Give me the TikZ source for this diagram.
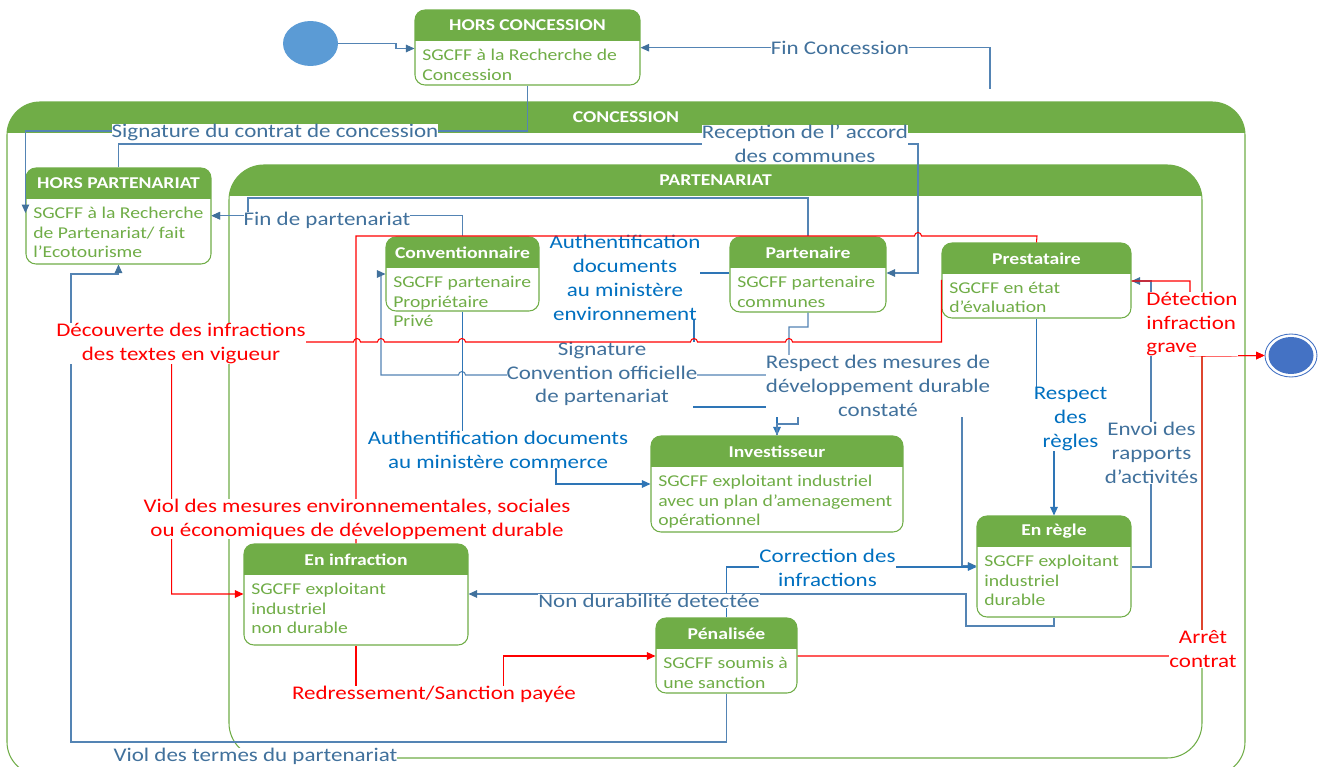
\documentclass[tikz,border=0pt]{standalone}
\usepackage{fontspec}
\setmainfont{Carlito}[FakeStretch=1.19]
\usetikzlibrary{arrows.meta,positioning,fit,shapes.geometric}

\definecolor{stgreen}{RGB}{112,173,71}
\definecolor{lnsteel}{RGB}{84,132,180}
\definecolor{tipsteel}{RGB}{65,113,156}
\definecolor{txsteel}{RGB}{65,113,156}
\definecolor{txblue}{RGB}{0,112,192}
\definecolor{lnblue}{RGB}{46,117,182}
\definecolor{initblue}{RGB}{91,155,213}
\definecolor{finblue}{RGB}{68,114,196}

% petit saut de ligne (droite vers gauche)
\newcommand{\hopl}[2]{-- ({#1+3.5},#2) arc[start angle=0,end angle=180,radius=0.07cm]}
\newcommand{\lblfont}{\fontsize{11}{13.6}\selectfont}
\newcommand{\bodyfont}{\fontsize{9.4}{11.3}\selectfont}
\newcommand{\ttlfont}{\fontsize{9.4}{11}\selectfont\bfseries}

\begin{document}
\begin{tikzpicture}[x=0.02cm,y=-0.02cm,label distance=0pt]
\tikzset{
  state/.style={draw=stgreen,line width=0.6pt,fill=white,rounded corners=0.2cm,inner sep=0pt,
    path picture={\fill[stgreen,sharp corners] (path picture bounding box.north west) rectangle
      ([yshift=-0.62cm]path picture bounding box.north east);}},
  bigstate/.style={state,rounded corners=0.66cm},
  ttl/.style={anchor=north,minimum height=0.62cm,inner sep=0pt,text=white,font=\ttlfont},
  body/.style={inner sep=0pt,align=left,text=stgreen,font=\bodyfont},
  initst/.style={ellipse,fill=initblue,minimum width=1.1cm,minimum height=0.9cm,inner sep=0pt},
  finst/.style={ellipse,draw=finblue,line width=0.5pt,fill=white,minimum width=1.04cm,minimum height=0.86cm,inner sep=0pt,
    path picture={\fill[finblue] (path picture bounding box.center) ellipse [x radius=0.45cm,y radius=0.37cm];}},
  flow/.style={draw=lnsteel,line width=0.6pt,-{Triangle[length=1.7mm,width=1.5mm,color=tipsteel]}},
  flowb/.style={draw=lnblue,line width=0.6pt,-{Triangle[length=1.7mm,width=1.5mm,color=lnblue]}},
  flowr/.style={draw=red,line width=0.6pt,-{Triangle[length=1.7mm,width=1.5mm]}},
  lbl/.style={fill=white,inner sep=0pt,align=center,font=\lblfont,text=txsteel},
  lblb/.style={lbl,text=txblue},
  lblr/.style={lbl,text=red}
}
\useasboundingbox (0,0) rectangle (1320,767);

% etats composites
\node[bigstate,fit={(7,102) (1245,775)},label={[ttl]north:CONCESSION}] (conc) {};
\node[bigstate,rounded corners=0.7cm,fit={(229,165) (1202,758)},label={[ttl]north:PARTENARIAT}] (part) {};

% etats
\node[initst] (init) at (310.5,43.5) {};
\node[finst] (final) at (1291,355.5) {};

\node[state,fit={(415,10) (640,85)},label={[ttl]north:HORS CONCESSION}] (hconc) {};
\node[body,below right=0.78cm and 0.15cm of hconc.north west] (hconc-t) {SGCFF à la Recherche de\\Concession};

\node[state,fit={(26,168) (211,264)},label={[ttl]north:HORS PARTENARIAT}] (hpart) {};
\node[body,below right=0.78cm and 0.15cm of hpart.north west] (hpart-t) {SGCFF à la Recherche\\de Partenariat/ fait\\l'Ecotourisme};

\node[state,fit={(386,237) (539,311)},label={[ttl]north:Conventionnaire}] (conv) {};
\node[body,below right=0.78cm and 0.15cm of conv.north west] (conv-t) {SGCFF partenaire\\Propriétaire\\Privé};

\node[state,fit={(730,237) (886,312)},label={[ttl]north:Partenaire}] (parten) {};
\node[body,below right=0.78cm and 0.15cm of parten.north west] (parten-t) {SGCFF partenaire\\communes};

\node[state,fit={(942,243) (1131,318)},label={[ttl]north:Prestataire}] (prest) {};
\node[body,below right=0.78cm and 0.15cm of prest.north west] (prest-t) {SGCFF en état\\d'évaluation};

\node[state,fit={(651,436) (903,532)},label={[ttl]north:Investisseur}] (invest) {};
\node[body,below right=0.78cm and 0.15cm of invest.north west] (invest-t) {SGCFF exploitant industriel\\avec un plan d'amenagement\\opérationnel};

\node[state,fit={(977,516) (1131,617)},label={[ttl]north:En règle}] (enregle) {};
\node[body,below right=0.78cm and 0.15cm of enregle.north west] (enregle-t) {SGCFF exploitant\\industriel\\durable};

\node[state,fit={(244,544) (468,645)},label={[ttl]north:En infraction}] (eninf) {};
\node[body,below right=0.78cm and 0.15cm of eninf.north west] (eninf-t) {SGCFF exploitant\\industriel\\non durable};

\node[state,fit={(656,618) (797,693)},label={[ttl]north:Pénalisée}] (penal) {};
\node[body,below right=0.78cm and 0.15cm of penal.north west] (penal-t) {SGCFF soumis à\\une sanction};

% transitions
\coordinate (fcstart) at (990,89);
\draw[flow] (init.east) -- (396,43.5) -- (396,48.5) -- (hconc.west |- 0,48.5);
\draw[flow] (fcstart) |- (hconc.east |- 0,47.7);
\draw[flow] (hconc.south) |- (hpart.west |- 0,131) -- (hpart.west |- 0,213);
\draw[flow] (hpart.north) |- (918,144) |- (parten.east |- 0,273);
\draw[flow] (conv.north) |- (hpart.east |- 0,215.7);
\draw[flow] (parten.north) |- (248,198) |- (hpart.east |- 0,215.7);
\draw[flow] (penal.south) |- (71,742) |- (hpart.south |- 0,274) -- (hpart.south);
\draw[flow] (parten.south) -- (808,327) -- (789,327) -- (789,375) \hopl{462}{375} -- (381,375) -- (381,274) -- (conv.west |- 0,274);
\draw[flowb] (parten.west |- 0,273) -- (694,273) -- (694,407) -| (invest.north);
\draw[flowb] (conv.south) -- (462.5,461) -| (556,484) -- (invest.west |- 0,484);
\draw[flow] (invest.north) -- (777,424) -- (798,424) -- (798,400) -| (962,566) -- (enregle.west |- 0,566);
\draw[flowb] (prest.south) |- (enregle.north |- 0,419) -- (enregle.north);
\draw[flow] (enregle.east |- 0,567) -| (1151,281) -- (prest.east |- 0,281);
\draw[flowr] (prest.east |- 0,281) -| (1190,356) -- (final.west);
\draw[flowr] (penal.east |- 0,656) -| (1202,356) -- (final.west);
\draw[flowb] (penal.north) |- (enregle.west |- 0,567);
\draw[flow] (enregle.south) |- (966,626) |- (eninf.east |- 0,594);
\draw[flowr] (eninf.south) |- (503.6,694) |- (penal.west |- 0,656);

\node[lblb] (l-authenv) at (625,277.7) {Authentification\\documents\\au ministère\\environnement};
\node[lbl] (l-sig) at (602,374) {Signature\\Convention officielle\\de partenariat};
\draw[flowr] (prest.west |- 0,280) -- (prest.west |- 0,342) \hopl{789}{342} \hopl{694}{342} \hopl{462}{342} \hopl{381}{342} \hopl{357}{342} -- (171.7,342) |- (eninf.west |- 0,594);
\draw[flowr,-] (prest.north) -- (1037,236) \hopl{918}{236} -- (eninf.north |- 0,236) -- (eninf.north);

% etiquettes
\node[lbl] (l-fc) at (840,47.7) {Fin Concession};
\node[lbl] (l-sc) at (275,132.7) {Signature du contrat de concession};
\node[lbl] (l-rc) at (805,143.5) {Reception de l’ accord\\des communes};
\node[lbl] (l-fp) at (327,220) {Fin de partenariat};
\node[lblr] (l-dec) at (181,343.5) {Découverte des infractions\\des textes en vigueur};
\node[lbl] (l-resp) at (878,386) {Respect des mesures de\\développement durable\\constaté};
\node[lblb] (l-authco) at (498,449.5) {Authentification documents\\au ministère commerce};
\node[lblr] (l-viol) at (357,519) {Viol des mesures environnementales, sociales\\ou économiques de développement durable};
\node[lblb] (l-regl) at (1070.5,419) {Respect\\des\\règles};
\node[lbl] (l-envoi) at (1151.5,453) {Envoi des\\rapports\\d’activités};
\node[lblr,align=left] (l-detec) at (1192,324) {Détection\\infraction\\grave};
\node[lblb] (l-corr) at (827.5,567.5) {Correction des\\infractions};
\node[lbl] (l-nondur) at (649,601) {Non durabilité detectée};
\node[lblr] (l-arret) at (1203,649) {Arrêt\\contrat};
\node[lblr] (l-redr) at (434,694) {Redressement/Sanction payée};
\node[lbl] (l-termes) at (255.5,756.7) {Viol des termes du partenariat};
\end{tikzpicture}
\end{document}
